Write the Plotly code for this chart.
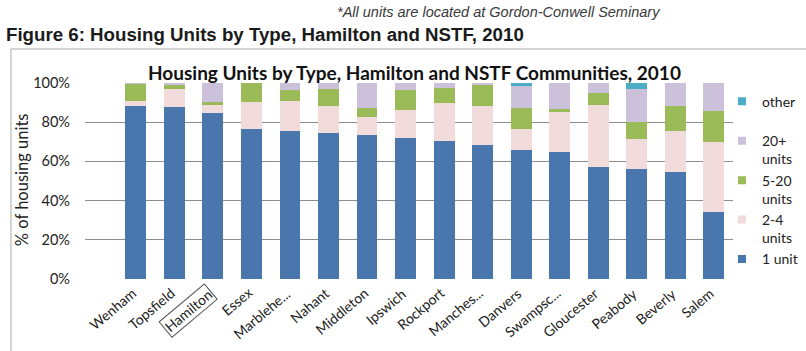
import plotly.graph_objects as go

# Share of housing units by structure type, 2010 (percent of all units)
towns = ["Wenham", "Topsfield", "Hamilton", "Essex", "Marblehe...", "Nahant",
         "Middleton", "Ipswich", "Rockport", "Manches...", "Danvers",
         "Swampsc...", "Gloucester", "Peabody", "Beverly", "Salem"]
one_unit = [88.4, 87.7, 84.5, 76.4, 75.7, 74.5, 73.5, 71.8, 70.2, 68.4, 65.6,
            64.6, 57.1, 56.3, 54.4, 34.0]
two_to_four = [2.6, 9.1, 4.6, 14.1, 15.3, 13.8, 9.3, 14.4, 19.4, 20.0, 10.8,
               20.8, 31.7, 15.1, 21.1, 36.1]
five_to_twenty = [8.5, 2.5, 1.0, 9.5, 5.3, 8.8, 4.7, 10.2, 8.0, 10.6, 11.0,
                  1.3, 5.9, 8.6, 12.9, 15.6]
twenty_plus = [0.5, 0.7, 9.9, 0.0, 3.7, 2.9, 12.5, 3.6, 2.4, 1.0, 11.1,
               13.3, 5.3, 16.9, 11.6, 14.3]
other = [0, 0, 0, 0, 0, 0, 0, 0, 0, 0, 1.5, 0, 0, 3.1, 0, 0]
y_ticks = [0, 20, 40, 60, 80, 100]
y_tick_labels = ["0%", "20%", "40%", "60%", "80%", "100%"]
highlight_town = "Hamilton"

series = [
    ("1 unit", one_unit, "#4876ad"),
    ("2-4<br>units", two_to_four, "#f2dcdb"),
    ("5-20<br>units", five_to_twenty, "#9bbb59"),
    ("20+<br>units", twenty_plus, "#ccc1da"),
    ("other<br> ", other, "#4bacc6"),
]

FONT = "Lato, 'Open Sans', sans-serif"

fig = go.Figure()
for name, vals, color in series:
    fig.add_trace(go.Bar(x=towns, y=vals, name=name, marker_color=color,
                         marker_line_width=0, showlegend=False))
    # small square key for the legend
    fig.add_trace(go.Scatter(x=[None], y=[None], mode="markers", name=name,
                             marker=dict(symbol="square", size=8, color=color)))

# Rotated category labels; the highlighted town gets a framed label
label_annotations = []
for town in towns:
    boxed = town == highlight_town
    label_annotations.append(dict(
        x=town, xref="x", y=0, yref="paper", text=town, showarrow=False,
        textangle=-40, xanchor="right", yanchor="top", xshift=5, yshift=-4,
        font=dict(family=FONT, size=14, color="#222222"),
        bordercolor="#555555" if boxed else "rgba(0,0,0,0)",
        borderwidth=1 if boxed else 0, borderpad=1,
    ))

text_annotations = [
    dict(text="*All units are located at Gordon-Conwell Seminary",
         x=0.386, y=1.36, xref="paper", yref="paper", showarrow=False,
         xanchor="left", yanchor="middle",
         font=dict(family="Liberation Sans", size=14.5, color="#3a3a3a",
                   style="italic")),
    dict(text="<b>Figure 6: Housing Units by Type, Hamilton and NSTF, 2010</b>",
         x=-0.125, y=1.245, xref="paper", yref="paper", showarrow=False,
         xanchor="left", yanchor="middle",
         font=dict(family="Liberation Sans", size=18.7, color="#1a1a1a")),
    dict(text="<b>Housing Units by Type, Hamilton and NSTF Communities, 2010</b>",
         x=0.508, y=1.056, xref="paper", yref="paper", showarrow=False,
         xanchor="center", yanchor="middle",
         font=dict(family=FONT, size=19, color="#111111")),
    dict(text="% of housing units", x=-0.097, y=0.505, xref="paper",
         yref="paper", showarrow=False, textangle=-90,
         xanchor="center", yanchor="middle",
         font=dict(family=FONT, size=16.5, color="#222222")),
]

fig.update_layout(
    width=806, height=351,
    margin=dict(l=85, r=73, t=83, b=72, autoexpand=False),
    barmode="stack", bargap=0.457,
    paper_bgcolor="white", plot_bgcolor="white",
    font=dict(family=FONT, color="#222222"),
    showlegend=True,
    legend=dict(x=0.983, y=0.986, xanchor="left", yanchor="top",
                traceorder="reversed", valign="top",
                font=dict(family=FONT, size=14, color="#222222"),
                bgcolor="rgba(0,0,0,0)"),
    xaxis=dict(type="category", showticklabels=False, showgrid=False,
               zeroline=False, showline=False, ticks=""),
    yaxis=dict(range=[0, 100], tickvals=y_ticks, ticktext=y_tick_labels,
               showgrid=True, gridcolor="#8c8c8c", gridwidth=1,
               zeroline=False, showline=False, ticks="",
               ticklabelstandoff=14,
               tickfont=dict(family=FONT, size=14.5, color="#222222")),
    annotations=label_annotations + text_annotations,
    shapes=[dict(type="rect", xref="paper", yref="paper",
                 x0=-0.1142, x1=1.115, y0=-0.45, y1=1.1735,
                 line=dict(color="#a8a8a8", width=1), layer="below")],
)

fig.write_html("out.html")
